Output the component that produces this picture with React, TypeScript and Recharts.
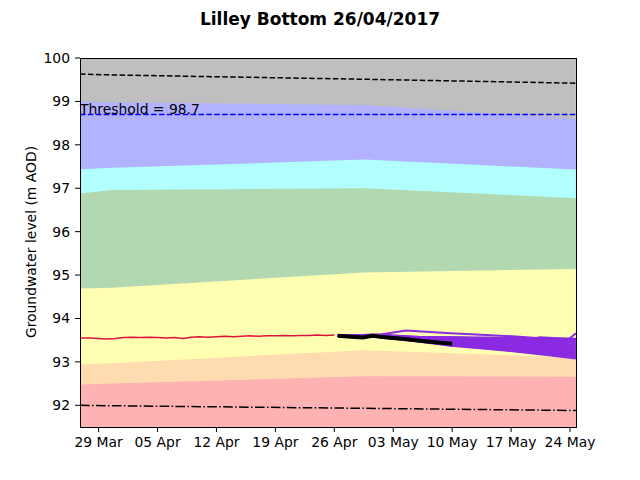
import React from 'react';
import { ComposedChart, Area, Line, XAxis, YAxis, ReferenceLine } from 'recharts';

// days are counted from 29 Mar 2017
const tickDays = [0, 7, 14, 21, 28, 35, 42, 49, 56];
const tickLabels = ['29 Mar', '05 Apr', '12 Apr', '19 Apr', '26 Apr', '03 May', '10 May', '17 May', '24 May'];
const levelTicks = [92, 93, 94, 95, 96, 97, 98, 99, 100];

// upper edge of each coloured band
const bandDays = [-2.2, 1.6, 31.6, 56.7];
const greyTop = [100, 100, 100, 100];
const blueTop = [99.0, 98.98, 98.92, 98.6];
const cyanTop = [97.44, 97.47, 97.66, 97.43];
const greenTop = [96.88, 96.96, 97.0, 96.77];
const yellowTop = [94.69, 94.71, 95.06, 95.14];
const orangeTop = [92.94, 92.97, 93.27, 93.1];
const redTop = [92.48, 92.5, 92.67, 92.66];
const upperDashed = [99.63, 99.61, 99.51, 99.42];
const lowerDashDot = [92.0, 91.99, 91.93, 91.88];

const threshold = 98.7;

const observedDays = [-2.2, -1, 0, 1, 2, 3, 4, 5, 6, 7, 8, 9, 10, 11, 12, 13, 14, 15, 16, 17, 18, 19, 20, 21, 22, 23, 24, 25, 26, 27, 28];
const observedLevels = [93.55, 93.55, 93.54, 93.53, 93.54, 93.56, 93.57, 93.56, 93.57, 93.56, 93.55, 93.56, 93.54, 93.57, 93.58, 93.57, 93.58, 93.59, 93.58, 93.59, 93.6, 93.59, 93.6, 93.6, 93.61, 93.6, 93.61, 93.61, 93.62, 93.61, 93.62];

const recentDays = [28.4, 30, 31.4, 32.5, 34, 36.6, 39, 42];
const recentLevels = [93.6, 93.58, 93.56, 93.6, 93.57, 93.52, 93.47, 93.42];

const ensembleDays = [28.4, 33, 38, 41.8, 46, 50, 53.5, 56.7];
const member1 = [93.6, 93.63, 93.58, 93.57, 93.56, 93.55, 93.54, 93.53];
const member2 = [93.6, 93.62, 93.57, 93.56, 93.545, 93.53, 93.515, 93.5];
const member3 = [93.6, 93.62, 93.55, 93.55, 93.53, 93.51, 93.49, 93.47];
const member4 = [93.6, 93.615, 93.54, 93.535, 93.51, 93.485, 93.46, 93.435];
const member5 = [93.6, 93.61, 93.53, 93.52, 93.49, 93.46, 93.43, 93.4];
const member6 = [93.6, 93.605, 93.525, 93.51, 93.475, 93.44, 93.405, 93.37];
const member7 = [93.6, 93.6, 93.52, 93.5, 93.46, 93.42, 93.38, 93.34];
const member8 = [93.6, 93.6, 93.515, 93.485, 93.44, 93.395, 93.35, 93.31];
const member9 = [93.6, 93.6, 93.51, 93.47, 93.42, 93.37, 93.32, 93.28];
const member10 = [93.6, 93.595, 93.505, 93.46, 93.405, 93.35, 93.3, 93.255];
const member11 = [93.6, 93.59, 93.5, 93.45, 93.39, 93.33, 93.28, 93.23];
const member12 = [93.6, 93.59, 93.495, 93.44, 93.375, 93.31, 93.255, 93.205];
const member13 = [93.6, 93.59, 93.49, 93.43, 93.36, 93.29, 93.23, 93.18];
const member14 = [93.6, 93.585, 93.485, 93.415, 93.345, 93.275, 93.21, 93.155];
const member15 = [93.6, 93.58, 93.48, 93.4, 93.33, 93.26, 93.19, 93.13];
const member16 = [93.6, 93.58, 93.475, 93.385, 93.315, 93.245, 93.17, 93.105];
const member17 = [93.6, 93.58, 93.47, 93.37, 93.3, 93.23, 93.15, 93.08];

const outlierDays = [28.4, 33.5, 36.5, 41.8, 46, 50, 52, 52.4, 56.7];
const outlierLevels = [93.6, 93.63, 93.72, 93.66, 93.62, 93.58, 93.55, 93.57, 93.52];
const lateRiseDays = [28.4, 33, 38, 41.8, 46, 50, 55.7, 56.7];
const lateRiseLevels = [93.6, 93.62, 93.56, 93.56, 93.54, 93.52, 93.5, 93.66];

const bandTable = bandDays.map((day, i) => ({
  day,
  grey: greyTop[i],
  blue: blueTop[i],
  cyan: cyanTop[i],
  green: greenTop[i],
  yellow: yellowTop[i],
  orange: orangeTop[i],
  red: redTop[i],
  upper: upperDashed[i],
  lower: lowerDashDot[i],
}));

const toSeries = (days: number[], levels: number[]) => days.map((day, i) => ({ day, level: levels[i] }));

const members = [
  member1, member2, member3, member4, member5, member6, member7, member8, member9,
  member10, member11, member12, member13, member14, member15, member16, member17,
];

const ensemble = members
  .map((m) => toSeries(ensembleDays, m))
  .concat([toSeries(outlierDays, outlierLevels), toSeries(lateRiseDays, lateRiseLevels)]);

const bands = [
  { key: 'grey', fill: '#bfbfbf' },
  { key: 'blue', fill: '#b2b2ff' },
  { key: 'cyan', fill: '#b2ffff' },
  { key: 'green', fill: '#b2d8b2' },
  { key: 'yellow', fill: '#ffffb2' },
  { key: 'orange', fill: '#ffdbb0' },
  { key: 'red', fill: '#ffb2b2' },
];

const font = 'DejaVu Sans';

export default function App() {
  return (
    <div style={{ position: 'absolute', left: 0, top: 0, width: 640, height: 480, background: '#fff', fontFamily: font }}>
      <div style={{ position: 'absolute', top: 8, left: 0, width: 640, textAlign: 'center', fontSize: 17, lineHeight: '22px', fontWeight: 'bold' }}>
        Lilley Bottom 26/04/2017
      </div>
      <div
        style={{
          position: 'absolute', left: 31, top: 242, fontSize: 13.9, lineHeight: '16px', whiteSpace: 'nowrap',
          transform: 'translate(-50%, -50%) rotate(-90deg)',
        }}
      >
        Groundwater level (m AOD)
      </div>
      <ComposedChart width={640} height={480} data={bandTable} margin={{ top: 58, right: 64, bottom: 23, left: 30 }}>
        <XAxis
          dataKey="day"
          type="number"
          domain={[-2.21, 56.71]}
          allowDataOverflow
          ticks={tickDays}
          tickFormatter={(v: number) => tickLabels[tickDays.indexOf(v)]}
          height={30}
          axisLine={false}
          tickSize={5}
          tickMargin={5}
          tickLine={{ stroke: '#000' }}
          tick={{ fill: '#000', fontSize: 13.9, fontFamily: font }}
        />
        <YAxis
          type="number"
          domain={[91.5, 100]}
          allowDataOverflow
          ticks={levelTicks}
          width={50}
          axisLine={false}
          tickSize={5}
          tickMargin={5}
          tickLine={{ stroke: '#000' }}
          tick={{ fill: '#000', fontSize: 13.9, fontFamily: font }}
        />
        {bands.map((b) => (
          <Area
            key={b.key}
            dataKey={b.key}
            type="linear"
            baseValue={91.5}
            fill={b.fill}
            fillOpacity={1}
            stroke="none"
            isAnimationActive={false}
          />
        ))}
        <Line dataKey="upper" type="linear" stroke="#000" strokeWidth={1.5} strokeDasharray="5.5 2.4" dot={false} isAnimationActive={false} />
        <Line dataKey="lower" type="linear" stroke="#000" strokeWidth={1.5} strokeDasharray="9.6 2.4 1.5 2.4" dot={false} isAnimationActive={false} />
        <ReferenceLine y={threshold} stroke="#0000ff" strokeWidth={1.5} strokeDasharray="5.5 2.4" />
        <Line data={toSeries(observedDays, observedLevels)} dataKey="level" type="linear" stroke="#dc143c" strokeWidth={1.5} dot={false} isAnimationActive={false} />
        {ensemble.map((s, i) => (
          <Line key={'m' + i} data={s} dataKey="level" type="linear" stroke="#8a2be2" strokeWidth={2} dot={false} isAnimationActive={false} />
        ))}
        <Line data={toSeries(recentDays, recentLevels)} dataKey="level" type="linear" stroke="#000" strokeWidth={4} dot={false} isAnimationActive={false} />
      </ComposedChart>
      <div style={{ position: 'absolute', left: 80, top: 58, width: 497, height: 370, boxSizing: 'border-box', border: '1px solid #000', pointerEvents: 'none' }} />
      <div style={{ position: 'absolute', left: 80, top: 101, fontSize: 13.9, lineHeight: '17px', whiteSpace: 'nowrap' }}>
        Threshold = {threshold}
      </div>
    </div>
  );
}
